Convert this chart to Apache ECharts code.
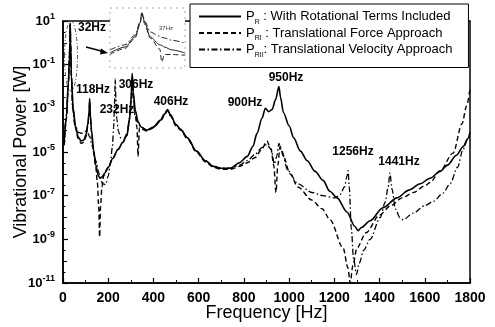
<!DOCTYPE html>
<html>
<head>
<meta charset="utf-8">
<script src="https://cdn.jsdelivr.net/npm/echarts@6/dist/echarts.min.js"></script>
<style>
  html, body { margin: 0; padding: 0; background: #fff; }
  #chart { width: 495px; height: 327px; }
</style>
</head>
<body>
<div id="chart"></div>
<script>
  // series names, subscripts and legend texts
  var seriesNames = ['P_R', 'P_RI', 'P_RII'];
  var seriesSubs = ['R', 'RI', 'RII'];
  var seriesDesc = ['With Rotational Terms Included', 'Translational Force Approach', 'Translational Velocity Approach'];

  // P_R : with rotational terms (solid)
  var freqR = [5, 15, 24, 28, 30.5, 32, 33.5, 37, 45, 55,
    67, 80, 92, 102, 110, 115, 118, 121, 126, 135,
    145, 155, 163, 172, 185, 200, 220, 243, 265, 283,
    294, 301, 306, 311, 320, 332, 345, 370, 400, 430,
    450, 462, 475, 500, 520, 550, 590, 630, 665, 700,
    740, 780, 815, 840, 858, 880, 895, 910, 925, 940,
    955, 962, 975, 1000, 1020, 1050, 1080, 1115, 1150, 1180,
    1212, 1256, 1290, 1305, 1320, 1358, 1415, 1477, 1530, 1580,
    1623, 1668, 1700, 1740, 1770, 1790, 1800];
  var powR = [2.5e-5, 4.0e-4, 1.6e-2, 0.16, 1, 7.9, 1, 3.2e-2, 1e-3, 1.6e-4,
    5.0e-5, 3.2e-5, 3.5e-5, 6.3e-5, 2.0e-4, 6.3e-4, 2.8e-3, 5.0e-4, 1e-4, 1.3e-5,
    2.5e-6, 8.9e-7, 6.3e-7, 7.1e-7, 1.1e-6, 2.0e-6, 5.0e-6, 1.3e-5, 2.8e-5, 6.3e-5,
    3.2e-4, 2.5e-3, 4.0e-2, 5.0e-3, 7.9e-4, 2.5e-4, 1.4e-4, 1e-4, 1.4e-4, 2.8e-4,
    5.6e-4, 8.9e-4, 5.0e-4, 1.8e-4, 1.1e-4, 4.5e-5, 1.1e-5, 4.0e-6, 2.2e-6, 1.8e-6,
    1.8e-6, 3.2e-6, 6.3e-6, 1.8e-5, 7.1e-5, 3.5e-4, 1e-3, 7.1e-4, 8.9e-4, 2.5e-3,
    1e-2, 3.2e-3, 6.3e-4, 1.6e-4, 4.5e-5, 1.1e-5, 4.0e-6, 1.3e-6, 5.0e-7, 1.6e-7,
    7.9e-8, 1.8e-8, 4.0e-9, 2.5e-9, 3.5e-9, 7.1e-9, 2.8e-8, 7.9e-8, 1.8e-7, 3.5e-7,
    6.3e-7, 1.3e-6, 2.5e-6, 7.1e-6, 1.8e-5, 4.0e-5, 7.9e-5];

  // P_RI : translational force approach (dashed)
  var freqRI = [5, 15, 24, 28, 30.5, 32, 33.5, 37, 45, 55,
    67, 80, 92, 102, 110, 115, 118, 121, 126, 135,
    145, 152, 158, 162, 166, 172, 180, 190, 200, 220,
    243, 265, 283, 294, 301, 306, 311, 320, 327, 332,
    338, 350, 370, 400, 430, 450, 462, 475, 500, 520,
    550, 590, 630, 665, 700, 740, 780, 815, 850, 880,
    902, 920, 932, 942, 950, 960, 975, 1004, 1039, 1100,
    1146, 1181, 1239, 1260, 1270, 1282, 1300, 1340, 1400, 1450,
    1500, 1550, 1600, 1623, 1668, 1725, 1765, 1785, 1800];
  var powRI = [2.0e-5, 3.2e-4, 1.3e-2, 0.13, 0.89, 7.1, 0.79, 2.5e-2, 7.9e-4, 1.3e-4,
    4.0e-5, 2.5e-5, 2.8e-5, 5.0e-5, 1.6e-4, 5.0e-4, 2.0e-3, 4.0e-4, 7.9e-5, 1e-5,
    2.0e-6, 4.0e-7, 3.2e-8, 1.3e-9, 3.2e-8, 2.5e-7, 7.9e-7, 1.4e-6, 2.0e-6, 5.0e-6,
    1.3e-5, 2.8e-5, 5.6e-5, 2.8e-4, 2.0e-3, 3.2e-2, 4.0e-3, 5.0e-4, 1.3e-4, 6.3e-6,
    1.3e-4, 1.1e-4, 8.9e-5, 1.3e-4, 2.5e-4, 5.0e-4, 7.9e-4, 4.5e-4, 1.6e-4, 1e-4,
    4.0e-5, 1e-5, 3.5e-6, 2.0e-6, 1.6e-6, 1.6e-6, 2.2e-6, 3.2e-6, 5.6e-6, 1.4e-5,
    3.2e-5, 1.3e-5, 2.5e-6, 1.4e-7, 2.5e-6, 1.8e-5, 6.3e-6, 1e-6, 2.5e-7, 6.3e-8,
    2.5e-8, 7.9e-9, 4.0e-10, 5.0e-11, 1e-11, 6.3e-11, 4.0e-10, 2.0e-9, 1.3e-8, 3.5e-8,
    7.9e-8, 1.4e-7, 2.8e-7, 4.0e-7, 1.4e-6, 8.9e-6, 2.0e-4, 1.3e-3, 7.9e-3];

  // P_RII : translational velocity approach (dash-dot)
  var freqRII = [5, 15, 24, 28, 30.5, 32, 33.5, 37, 42, 53,
    68, 84, 98, 108, 118, 130, 145, 160, 175, 188,
    200, 210, 218, 224, 228, 231, 234, 238, 245, 255,
    270, 285, 296, 302, 306, 311, 318, 330, 345, 370,
    400, 430, 450, 462, 475, 500, 520, 550, 590, 630,
    665, 700, 740, 780, 815, 850, 880, 900, 920, 935,
    945, 955, 965, 995, 1039, 1101, 1150, 1203, 1225, 1245,
    1256, 1261, 1266, 1275, 1285, 1298, 1310, 1330, 1358, 1403,
    1425, 1438, 1446, 1455, 1470, 1490, 1504, 1550, 1600, 1640,
    1680, 1712, 1745, 1769, 1790, 1800];
  var powRII = [3.2e-5, 5.0e-4, 2.0e-2, 0.18, 1.1, 7.1, 1.1, 4.0e-2, 1e-3, 1.6e-4,
    7.9e-5, 7.1e-5, 8.9e-5, 7.9e-5, 5.0e-5, 1.8e-5, 4.0e-6, 1e-6, 3.5e-7, 3.2e-7,
    7.9e-7, 3.2e-6, 1.6e-5, 1.3e-4, 1.6e-3, 2.2e-2, 2.5e-3, 3.2e-4, 8.9e-5, 4.5e-5,
    4.0e-5, 7.9e-5, 5.0e-4, 3.2e-3, 2.2e-2, 2.5e-3, 5.0e-4, 2.2e-4, 1.4e-4, 1e-4,
    1.4e-4, 2.8e-4, 5.6e-4, 8.9e-4, 5.0e-4, 1.8e-4, 1.1e-4, 4.5e-5, 1.1e-5, 4.0e-6,
    2.2e-6, 1.8e-6, 1.8e-6, 2.5e-6, 4.0e-6, 7.9e-6, 1.6e-5, 2.2e-5, 1.4e-5, 2.8e-6,
    6.3e-6, 2.5e-5, 1.3e-5, 1.4e-6, 3.5e-7, 1.4e-7, 1e-7, 7.9e-8, 1.1e-7, 2.5e-7,
    7.9e-7, 1.4e-6, 2.5e-7, 3.2e-9, 1.3e-10, 2.5e-11, 7.9e-11, 3.2e-10, 1e-9, 1e-8,
    5.0e-8, 2.5e-7, 1.1e-6, 2.0e-7, 2.5e-8, 1e-8, 7.9e-9, 1.6e-8, 3.5e-8, 5.6e-8,
    1.3e-7, 3.5e-7, 2.0e-6, 1.3e-5, 4.0e-5, 6.3e-5];

  // inset: close-up of the 32 Hz peak
  var insetFreq = [23.5, 27.5, 30.2, 31.5, 32, 32.8, 34.2, 36.8, 37.3, 38, 40, 43.5];
  var insetR = [1e-2, 2.5e-2, 0.12, 1, 4.7, 1, 0.12, 3.5e-2, 3.2e-2, 2.5e-2, 1.6e-2, 1e-2];
  var insetRI = [7.9e-3, 2.0e-2, 0.1, 0.79, 4.2, 0.79, 0.1, 1.8e-2, 2.5e-3, 7.9e-3, 7.9e-3, 7.1e-3];
  var insetRII = [1.6e-2, 3.5e-2, 0.16, 1.1, 4.7, 1.3, 0.25, 0.13, 0.11, 0.1, 7.1e-2, 4.5e-2];

  var font = "'Liberation Sans', Arial, sans-serif";

  function pairs(f, p) {
    return f.map(function (x, i) { return [x, p[i]]; });
  }

  var lineTypes = [
    { type: 'solid', width: 1.6 },
    { type: [5, 3], width: 1.4 },
    { type: [6, 2.5, 1.5, 2.5], width: 1.3 }
  ];

  var mainData = [pairs(freqR, powR), pairs(freqRI, powRI), pairs(freqRII, powRII)];
  var insetData = [pairs(insetFreq, insetR), pairs(insetFreq, insetRI), pairs(insetFreq, insetRII)];

  var series = [];
  for (var i = 0; i < 3; i++) {
    series.push({
      name: seriesNames[i],
      type: 'line',
      xAxisIndex: 0,
      yAxisIndex: 0,
      data: mainData[i],
      symbol: 'none',
      smooth: 0.3,
      smoothMonotone: 'x',
      lineStyle: { color: '#000', width: lineTypes[i].width, type: lineTypes[i].type },
      itemStyle: { color: '#000' },
      z: 5 - i
    });
    series.push({
      name: 'inset ' + seriesNames[i],
      type: 'line',
      xAxisIndex: 1,
      yAxisIndex: 1,
      data: insetData[i],
      symbol: 'none',
      smooth: 0.3,
      smoothMonotone: 'x',
      lineStyle: { color: '#222', width: 1, type: lineTypes[i].type },
      z: 5 - i
    });
  }

  var peakLabels = [
    { t: '32Hz', x: 92, y: 28 },
    { t: '118Hz', x: 93, y: 90 },
    { t: '306Hz', x: 136, y: 85 },
    { t: '232Hz', x: 117, y: 110 },
    { t: '406Hz', x: 171, y: 102 },
    { t: '900Hz', x: 245, y: 103 },
    { t: '950Hz', x: 286, y: 78 },
    { t: '1256Hz', x: 353, y: 152 },
    { t: '1441Hz', x: 399, y: 162 }
  ];

  var graphics = peakLabels.map(function (p) {
    return {
      type: 'text', x: p.x, y: p.y, z: 20,
      style: { text: p.t, fontFamily: font, fontSize: 12, fontWeight: 'bold', fill: '#000', textAlign: 'center', textVerticalAlign: 'middle' }
    };
  });
  graphics.push(
    { type: 'rect', z: 15, shape: { x: 110, y: 8, width: 75, height: 60 },
      style: { fill: 'none', stroke: '#aaa', lineWidth: 1, lineDash: [2, 4] } },
    { type: 'text', x: 166, y: 28, z: 20,
      style: { text: '37Hz', fontFamily: font, fontSize: 6, fill: '#333', textAlign: 'center', textVerticalAlign: 'middle' } },
    { type: 'ellipse', z: 15, shape: { cx: 71, cy: 56, rx: 6.5, ry: 35 },
      style: { fill: 'none', stroke: '#555', lineWidth: 1, lineDash: [4, 2, 1, 2] } },
    { type: 'line', z: 15, shape: { x1: 86, y1: 47, x2: 103, y2: 51.5 },
      style: { stroke: '#000', lineWidth: 1.5 } },
    { type: 'polygon', z: 15, shape: { points: [[108, 53], [101, 48.5], [100, 54.5]] },
      style: { fill: '#000' } }
  );

  var chart = echarts.init(document.getElementById('chart'));
  chart.setOption({
    animation: false,
    backgroundColor: '#fff',
    textStyle: { fontFamily: font, color: '#000' },
    grid: [
      { left: 63, top: 21, width: 407, height: 262, show: true, borderColor: '#000', borderWidth: 1.5,
        containLabel: false, outerBoundsMode: 'none' },
      { left: 110, top: 8, width: 75, height: 60, show: true, backgroundColor: '#fff', borderWidth: 0,
        containLabel: false, outerBoundsMode: 'none' }
    ],
    xAxis: [
      {
        type: 'value', gridIndex: 0, min: 0, max: 1800, interval: 200,
        axisLine: { onZero: false, lineStyle: { color: '#000', width: 1.5 } },
        axisTick: { inside: true, length: 5, lineStyle: { color: '#000', width: 1.2 } },
        minorTick: { show: true, splitNumber: 2, length: 3, lineStyle: { color: '#000', width: 1 } },
        splitLine: { show: false },
        axisLabel: {
          color: '#000', fontSize: 14, fontWeight: 'bold', fontFamily: font, margin: 8,
          formatter: function (v) { return String(v); }
        },
        name: 'Frequency [Hz]', nameLocation: 'middle', nameGap: 21, nameMoveOverlap: false,
        nameTextStyle: { fontSize: 18, fontFamily: font, color: '#000' }
      },
      { type: 'value', gridIndex: 1, min: 23.5, max: 43.5, show: false }
    ],
    yAxis: [
      {
        type: 'log', logBase: 10, gridIndex: 0, min: 1e-11, max: 10, interval: 2,
        axisLine: { show: true, onZero: false, lineStyle: { color: '#000', width: 1.5 } },
        axisTick: { show: true, inside: true, length: 5, lineStyle: { color: '#000', width: 1.2 } },
        splitLine: { show: false },
        axisLabel: {
          color: '#000', margin: 8,
          formatter: function (v) {
            var e = Math.round(Math.log(v) / Math.LN10);
            return '{b|10}{e|' + e + '}';
          },
          rich: {
            b: { fontSize: 13, fontWeight: 'bold', fontFamily: font, color: '#000', lineHeight: 18, verticalAlign: 'middle' },
            e: { fontSize: 9, fontWeight: 'bold', fontFamily: font, color: '#000', lineHeight: 10, verticalAlign: 'top' }
          }
        },
        name: 'Vibrational Power [W]', nameLocation: 'middle', nameGap: 33, nameMoveOverlap: false,
        nameTextStyle: { fontSize: 18, fontFamily: font, color: '#000' }
      },
      { type: 'log', logBase: 10, gridIndex: 1, min: 1e-3, max: 10, show: false },
      {
        // extra tick-only axis for the decade and half-decade ticks
        type: 'value', gridIndex: 0, min: -11, max: 1, interval: 1, position: 'left',
        axisLine: { show: false, onZero: false },
        axisTick: { show: true, inside: true, length: 4, lineStyle: { color: '#000', width: 1 } },
        minorTick: { show: true, splitNumber: 2, length: 2.5, lineStyle: { color: '#000', width: 1 } },
        axisLabel: { show: false },
        splitLine: { show: false }
      }
    ],
    legend: {
      data: seriesNames,
      orient: 'vertical',
      left: 190, top: 4,
      padding: [6, 16, 9, 8],
      itemGap: 1,
      itemWidth: 42,
      itemHeight: 14,
      backgroundColor: '#fff',
      borderColor: '#000',
      borderWidth: 1,
      itemStyle: { opacity: 0 },
      z: 10,
      formatter: function (name) {
        var i = seriesNames.indexOf(name);
        var sep = i < 2 ? ' :' : ':';
        return '{p|P}{s|' + seriesSubs[i] + '}{t|' + sep + ' ' + seriesDesc[i] + '}';
      },
      textStyle: {
        fontFamily: font, color: '#000',
        rich: {
          p: { fontSize: 13, fontFamily: font, color: '#000', lineHeight: 18, verticalAlign: 'middle' },
          s: { fontSize: 7, fontFamily: font, color: '#000', lineHeight: 9, verticalAlign: 'bottom' },
          t: { fontSize: 13, fontFamily: font, color: '#000', lineHeight: 18, verticalAlign: 'middle' }
        }
      }
    },
    graphic: graphics,
    series: series
  });
</script>
</body>
</html>
